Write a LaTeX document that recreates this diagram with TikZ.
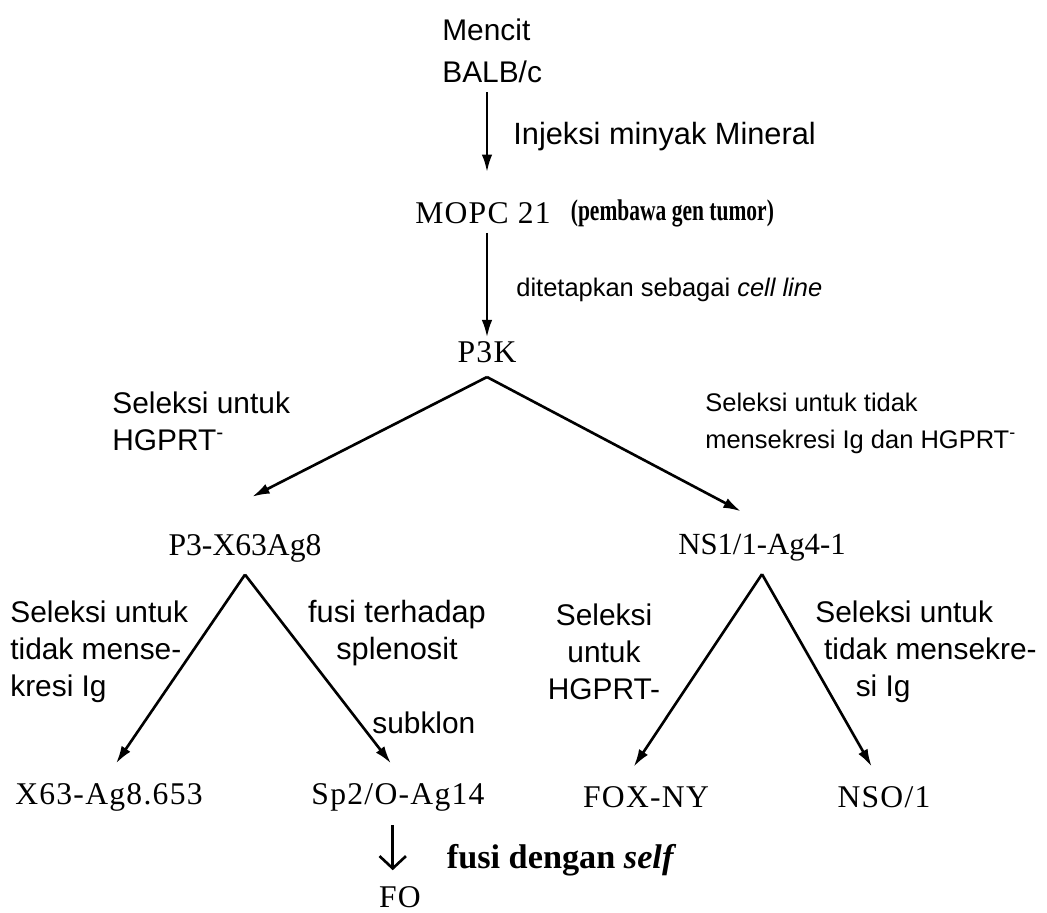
\documentclass[tikz,border=0pt]{standalone}
\usepackage{fontspec}
\setmainfont{Liberation Serif}
\newfontfamily\labelfont{Liberation Sans}
\newfontfamily\narrowserif[FakeStretch=0.72]{Liberation Serif}
\usetikzlibrary{arrows.meta, positioning}

\begin{document}
\begin{tikzpicture}[
  x=0.02cm, y=-0.02cm,
  cell/.style={inner sep=2pt, font=\fontsize{18}{21}\selectfont},
  leaf/.style={cell, font=\fontsize{18}{21}\selectfont\addfontfeature{LetterSpace=4}},
  note/.style={inner sep=0pt, align=left, font=\labelfont\fontsize{17}{21}\selectfont},
  smallnote/.style={note, font=\labelfont\fontsize{14.5}{21}\selectfont},
  arrow/.style={-{Latex[length=10pt,width=6pt]}, line width=1.5pt}
]
  \useasboundingbox (0,0) rectangle (1047,912);

  % cell lines
  \node[note, anchor=west, font=\labelfont\fontsize{17}{24}\selectfont] (mencit) at (442,51) {Mencit\\BALB/c};
  \node[leaf] (mopc) at (483,213) {MOPC 21};
  \node[cell, anchor=west, font=\narrowserif\bfseries\fontsize{17}{21}\selectfont] (tumor) at (567,213) {(pembawa gen tumor)};
  \node[leaf] (p3k) at (487,352) {P3K};
  \node[cell] (p3x) at (245,548) {P3-X63Ag8};
  \node[cell, font=\fontsize{17.5}{21}\selectfont] (ns1) at (762,548) {NS1/1-Ag4-1};
  \node[leaf] (x63) at (109,797) {X63-Ag8.653};
  \node[leaf] (sp2) at (398,797) {Sp2/O-Ag14};
  \node[leaf] (fox) at (646,797) {FOX-NY};
  \node[leaf] (nso) at (884,797) {NSO/1};
  \node[leaf] (fo) at (400,897) {FO};

  % steps
  \node[note, anchor=west, font=\labelfont\fontsize{17.5}{21}\selectfont] (injeksi) at (513,137) {Injeksi minyak Mineral};
  \node[smallnote, anchor=west] (cellline) at (516,290) {ditetapkan sebagai \textit{cell line}};
  \node[note, anchor=west] (hgprtA) at (112,421) {Seleksi untuk\\HGPRT\textsuperscript{-}};
  \node[smallnote, anchor=west] (hgprtB) at (705,423) {Seleksi untuk tidak\\mensekresi Ig dan HGPRT\textsuperscript{-}};
  \node[note, anchor=west] (igA) at (10,652) {Seleksi untuk\\tidak mense-\\kresi Ig};
  \node[note, align=center, font=\labelfont\fontsize{17.5}{21}\selectfont] (fusiA) at (397,633) {fusi terhadap\\splenosit};
  \node[note, anchor=west] (subklon) at (372,723) {subklon};
  \node[note, align=center] (hgprtC) at (604,652) {Seleksi\\untuk\\HGPRT-};
  \node[note, anchor=west] (igB) at (815,652) {Seleksi untuk\\\hspace*{5pt}tidak mensekre-\\\hspace*{23pt}si Ig};
  \node[cell, anchor=west, font=\bfseries\fontsize{19.5}{21}\selectfont] (self) at (443,860) {fusi dengan \textit{self}};

  \draw[arrow, shorten <=5pt, shorten >=15pt] (mencit.south -| p3k) -- (mopc.north -| p3k);
  \draw[arrow, shorten <=3pt] (mopc.south -| p3k) -- (p3k.north);
  \draw[arrow] ([yshift=-6pt]p3k.south) -- ([xshift=4pt,yshift=19pt]p3x.north);
  \draw[arrow] ([yshift=-6pt]p3k.south) -- ([xshift=-12pt,yshift=11pt]ns1.north);
  \draw[arrow] ([yshift=-5pt]p3x.south) -- ([xshift=4pt,yshift=9pt]x63.north);
  \draw[arrow] ([yshift=-5pt]p3x.south) -- ([xshift=-4pt,yshift=9pt]sp2.north);
  \draw[arrow] ([yshift=-5pt]ns1.south) -- ([xshift=-7pt,yshift=9pt]fox.north);
  \draw[arrow] ([yshift=-5pt]ns1.south) -- ([xshift=-7pt,yshift=9pt]nso.north);
  \draw[-{Straight Barb[length=7pt,width=15pt]}, line width=1.5pt, shorten <=6pt, shorten >=7pt]
    ([xshift=-3pt]sp2.south) -- ([xshift=-3pt]sp2.south |- fo.north);
\end{tikzpicture}
\end{document}
